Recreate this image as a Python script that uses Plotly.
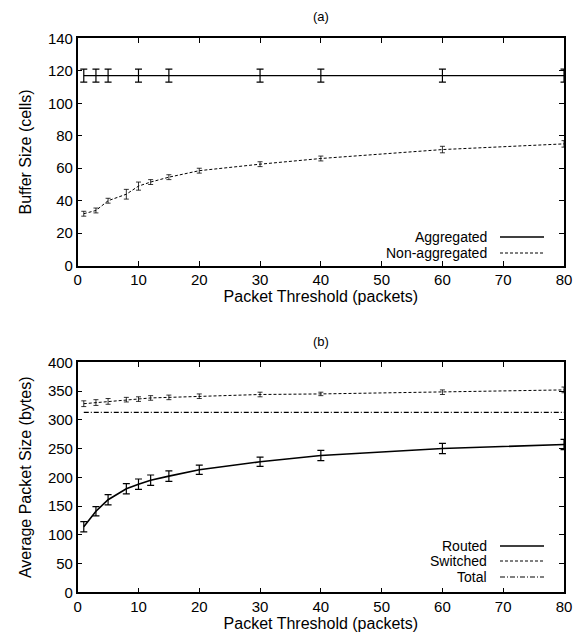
import plotly.graph_objects as go

# ---- data (a)
x_agg = [1, 3, 5, 10, 15, 30, 40, 60, 80]
agg = [117, 117, 117, 117, 117, 117, 117, 117, 117]
agg_err = [4, 4, 4, 4, 4, 4, 4, 4, 4]

x_nonagg = [1, 3, 5, 8, 10, 12, 15, 20, 30, 40, 60, 80]
nonagg = [32, 34, 40, 44, 49, 51.5, 54.5, 58.5, 62.5, 66, 71.5, 75]
nonagg_err = [1.5, 1.5, 1.5, 3, 2.5, 1.5, 1.5, 1.5, 1.5, 1.5, 2, 2]

# ---- data (b)
x_b = [1, 3, 5, 8, 10, 12, 15, 20, 30, 40, 60, 80]
routed = [114, 141, 161, 180, 188, 195, 202, 213, 227, 238, 250, 257]
routed_err = [9, 8, 9, 9, 9, 9, 9, 8, 8, 9, 9, 9]
switched = [328, 330, 332, 335, 336, 338, 339, 341, 344, 345, 348, 352]
switched_err = [5, 5, 5, 4, 4, 4, 4, 4, 4, 3, 4, 5]
total = [313, 313, 313, 313, 313, 313, 313, 313, 313, 313, 313, 313]

legend_a = ["Aggregated", "Non-aggregated"]
legend_b = ["Routed", "Switched", "Total"]

FONT = "Liberation Sans, Arial, sans-serif"
W, H = 575, 641

def px_x(p):
    return p / W

def px_y(p):
    return 1 - p / H

fig = go.Figure()

def err(vals, th=1.0, w=3):
    return dict(type="data", array=vals, visible=True, color="black", thickness=th, width=w)

fig.add_trace(go.Scatter(x=x_agg, y=agg, mode="lines", line=dict(color="black", width=1.3),
                         error_y=err(agg_err, 1.2, 3.5), xaxis="x", yaxis="y", showlegend=False))
fig.add_trace(go.Scatter(x=x_nonagg, y=nonagg, mode="lines", line=dict(color="black", width=1, dash="3px,2px"),
                         error_y=err(nonagg_err, 0.8, 2.5), xaxis="x", yaxis="y", showlegend=False))

fig.add_trace(go.Scatter(x=x_b, y=routed, mode="lines", line=dict(color="black", width=1.6),
                         error_y=err(routed_err, 1.2, 3.5), xaxis="x2", yaxis="y2", showlegend=False))
fig.add_trace(go.Scatter(x=x_b, y=switched, mode="lines", line=dict(color="black", width=1, dash="3px,2px"),
                         error_y=err(switched_err, 0.8, 2.5), xaxis="x2", yaxis="y2", showlegend=False))
fig.add_trace(go.Scatter(x=x_b, y=total, mode="lines", line=dict(color="black", width=1.2, dash="5px,2px,1px,2px"),
                         xaxis="x2", yaxis="y2", showlegend=False))

xdom = [px_x(77.7), px_x(564)]
axis_common = dict(showgrid=False, zeroline=False, showline=True, linecolor="black", linewidth=1.5,
                   mirror="ticks", ticks="inside", ticklen=5, tickwidth=1, tickcolor="black",
                   automargin=False, tickfont=dict(family=FONT, size=15, color="black"))
TF = dict(family=FONT, size=16, color="black")

fig.update_layout(
    width=W, height=H, margin=dict(l=0, r=0, t=0, b=0),
    paper_bgcolor="white", plot_bgcolor="white",
    font=dict(family=FONT, color="black"),
    xaxis=dict(domain=xdom, range=[0, 80], dtick=10, anchor="y",
               title=dict(text="Packet Threshold (packets)", font=TF, standoff=0),
               **axis_common),
    yaxis=dict(domain=[px_y(265.7), px_y(38.3)], range=[0, 140], dtick=20, anchor="x",
               title=dict(text="Buffer Size (cells)", font=TF, standoff=12),
               **axis_common),
    xaxis2=dict(domain=xdom, range=[0, 80], dtick=10, anchor="y2",
                title=dict(text="Packet Threshold (packets)", font=TF, standoff=0),
                **axis_common),
    yaxis2=dict(domain=[px_y(592.3), px_y(362.3)], range=[0, 400], dtick=50, anchor="x2",
                title=dict(text="Average Packet Size (bytes)", font=TF, standoff=12),
                **axis_common),
)

ann = []
ann.append(dict(text="(a)", x=px_x(321), y=px_y(17), xref="paper", yref="paper", showarrow=False,
                yanchor="middle", font=dict(family=FONT, size=13)))
ann.append(dict(text="(b)", x=px_x(321), y=px_y(341), xref="paper", yref="paper", showarrow=False,
                yanchor="middle", font=dict(family=FONT, size=13)))

shapes = []
def legend_block(names, ys, dashes, widths):
    for name, yy, d, w in zip(names, ys, dashes, widths):
        ann.append(dict(text=name, x=px_x(489), y=px_y(yy), xref="paper", yref="paper", showarrow=False,
                        xanchor="right", yanchor="middle", font=dict(family=FONT, size=14)))
        shapes.append(dict(type="line", xref="paper", yref="paper", x0=px_x(500), x1=px_x(544),
                           y0=px_y(yy), y1=px_y(yy), line=dict(color="black", width=w, dash=d)))

legend_block(legend_a, [237, 253], ["solid", "3px,2px"], [1.3, 1])
legend_block(legend_b, [546, 561, 577], ["solid", "3px,2px", "5px,2px,1px,2px"], [1.6, 1, 1])

fig.update_layout(annotations=ann, shapes=shapes)
fig.write_html("out.html", config={"displayModeBar": False},
               post_script="document.body.style.margin='0';document.body.style.overflow='hidden';")
